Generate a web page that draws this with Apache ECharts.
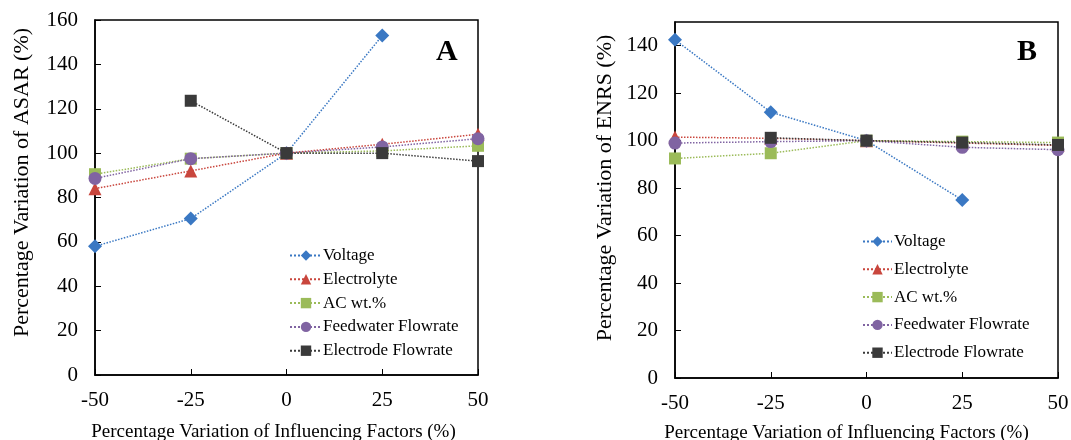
<!DOCTYPE html>
<html><head><meta charset="utf-8">
<script src="https://cdn.jsdelivr.net/npm/echarts@6/dist/echarts.min.js"></script>
<style>html,body{margin:0;padding:0;background:#fff}#c{width:1071px;height:440px}</style>
</head><body><div id="c"></div>
<script>
const xValues = [-50, -25, 0, 25, 50];
const seriesNames = ['Voltage', 'Electrolyte', 'AC wt.%', 'Feedwater Flowrate', 'Electrode Flowrate'];
// Panel A: ASAR
const asarVoltage = [58, 70.5, 100, 153, null];
const asarElectrolyte = [84, 92, 100, 104, 108.5];
const asarAC = [90.5, 97.5, 100, 101, 103.3];
const asarFeedwater = [88.6, 97.5, 100, 102.8, 106.5];
const asarElectrode = [null, 123.6, 100, 100, 96.4];
// Panel B: ENRS
const enrsVoltage = [142.5, 112, 100, 75, null];
const enrsElectrolyte = [101.5, 101, 100, 99, 98];
const enrsAC = [92.5, 94.7, 100, 99.6, 99.2];
const enrsFeedwater = [99, 99.6, 100, 97.2, 96.2];
const enrsElectrode = [null, 101.2, 100, 99.2, 98.2];
const yTicksA = [0, 160, 20];
const yTicksB = [0, 150, 20];

const colors = ['#3a78c3', '#c9463d', '#9bbb59', '#8064a2', '#3a3a3a'];
const symbols = ['diamond', 'triangle', 'rect', 'circle', 'rect'];
const symbolSizes = [14, 13, 12, 13, 12];
const FONT = "'Liberation Serif','Times New Roman',serif";

function pairs(vals) { return xValues.map((x, i) => vals[i] == null ? null : [x, vals[i]]).filter(p => p); }

function mkSeries(arrs, gi) {
  return arrs.map((a, i) => ({
    name: seriesNames[i], type: 'line', xAxisIndex: gi, yAxisIndex: gi,
    data: pairs(a), symbol: symbols[i], symbolSize: symbolSizes[i],
    lineStyle: { type: 'dotted', width: 1.5, color: colors[i] },
    itemStyle: { color: colors[i] }, color: colors[i], z: 2 + i, animation: false
  }));
}

const grids = [
  { left: 95, top: 20, width: 383, height: 355, show: true, borderColor: '#000', borderWidth: 1.5, outerBoundsMode: 'none', containLabel: false },
  { left: 675, top: 22, width: 383, height: 356, show: true, borderColor: '#000', borderWidth: 1.5, outerBoundsMode: 'none', containLabel: false }
];
function xAx(gi, gap, shift) {
  return { type: 'value', gridIndex: gi, min: -50, max: 50, interval: 25,
    name: 'Percentage Variation of Influencing Factors (%)', nameLocation: 'middle', nameGap: gap,
    nameTextStyle: { fontFamily: FONT, fontSize: 19, color: '#000', padding: [0, shift * 2, 0, 0] },
    axisLine: { onZero: false, lineStyle: { color: '#000', width: 1.5 } },
    axisTick: { inside: true, length: 6, lineStyle: { color: '#000' } },
    axisLabel: { fontFamily: FONT, fontSize: 21, color: '#000', margin: 15 },
    splitLine: { show: false } };
}
function yAx(gi, t, name, gap, shift) {
  return { type: 'value', gridIndex: gi, min: t[0], max: t[1], interval: t[2],
    name: name, nameLocation: 'middle', nameGap: gap, nameRotate: 90,
    nameTextStyle: { fontFamily: FONT, fontSize: 22, color: '#000', padding: [0, 0, 0, shift * 2] },
    axisLine: { onZero: false, lineStyle: { color: '#000', width: 1.5 } },
    axisTick: { inside: true, length: 6, lineStyle: { color: '#000' } },
    axisLabel: { fontFamily: FONT, fontSize: 21, color: '#000', margin: 17, showMaxLabel: t[1] % t[2] === 0 },
    splitLine: { show: false } };
}
function legend(left, top, gap, w, pad) {
  return { orient: 'vertical', left: left, top: top, itemGap: gap, itemWidth: w, itemHeight: 13,
    textStyle: { fontFamily: FONT, fontSize: 17, color: '#000', padding: [0, 0, 0, pad] },
    data: seriesNames, selectedMode: false };
}

const chart = echarts.init(document.getElementById('c'), null, { renderer: 'canvas' });
chart.setOption({
  backgroundColor: '#fff',
  animation: false,
  grid: grids,
  xAxis: [xAx(0, 48, 13), xAx(1, 46, 20)],
  yAxis: [yAx(0, yTicksA, 'Percentage Variation of ASAR (%)', 62, 15), yAx(1, yTicksB, 'Percentage Variation of ENRS (%)', 59, 12)],
  legend: [legend(284, 242, 6.8, 32, -4), legend(857, 228, 10.8, 29, -3)],
  series: [...mkSeries([asarVoltage, asarElectrolyte, asarAC, asarFeedwater, asarElectrode], 0),
           ...mkSeries([enrsVoltage, enrsElectrolyte, enrsAC, enrsFeedwater, enrsElectrode], 1)],
  graphic: [
    { type: 'text', left: 436, top: 37, style: { text: 'A', font: "bold 30px 'Liberation Serif', serif", fill: '#000' } },
    { type: 'text', left: 1017, top: 37, style: { text: 'B', font: "bold 30px 'Liberation Serif', serif", fill: '#000' } }
  ]
});
</script></body></html>
